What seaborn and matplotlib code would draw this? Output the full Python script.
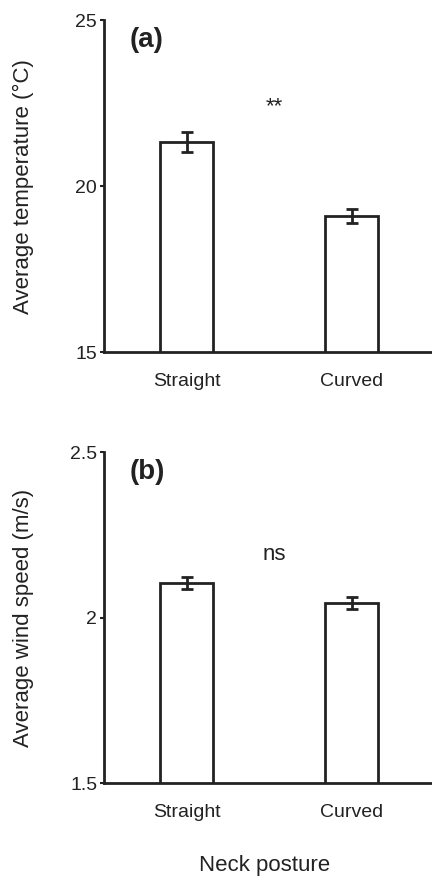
import seaborn as sns
import matplotlib.pyplot as plt

# data
posture = ['Straight', 'Curved']
temp_mean = [21.33, 19.10]
temp_se = [0.30, 0.21]
wind_mean = [2.104, 2.045]
wind_se = [0.018, 0.019]

sns.set_style('ticks')
plt.rcParams['font.family'] = ['Liberation Sans', 'DejaVu Sans']
ink = '#222222'

fig = plt.figure(figsize=(4.32, 8.8), dpi=100)
ax1 = fig.add_axes([0.241, 0.600, 0.759, 0.377])
ax2 = fig.add_axes([0.241, 0.110, 0.759, 0.376])

def panel(ax, means, ses, ylim, yticks, yticklabels, ylabel, tag, sig, sig_y, tag_y):
    sns.barplot(x=posture, y=means, ax=ax, width=0.32, color='white',
                edgecolor=ink, linewidth=2, errorbar=None)
    ax.errorbar(range(len(posture)), means, yerr=ses, fmt='none',
                ecolor=ink, elinewidth=2, capsize=4, capthick=2)
    ax.set_ylim(*ylim)
    ax.set_xlim(-0.5, 1.485)
    ax.set_yticks(yticks)
    ax.set_yticklabels(yticklabels)
    ax.set_ylabel(ylabel, fontsize=16, color=ink)
    ax.yaxis.set_label_coords(-0.215, 0.5)
    ax.tick_params(axis='y', length=3, width=1.5, labelsize=14, colors=ink, pad=2)
    ax.tick_params(axis='x', length=0, labelsize=14, colors=ink, pad=15)
    for s in ['left', 'bottom']:
        ax.spines[s].set_linewidth(2)
        ax.spines[s].set_color(ink)
    sns.despine(ax=ax)
    ax.text(-0.345, tag_y, tag, fontsize=20, fontweight='bold', color=ink, va='center')
    ax.text(0.53, sig_y, sig, fontsize=16, color=ink, ha='center', va='center')

panel(ax1, temp_mean, temp_se, (15, 25), [15, 20, 25], ['15', '20', '25'],
      'Average temperature (°C)', '(a)', '**', 22.4, 24.4)
panel(ax2, wind_mean, wind_se, (1.5, 2.5), [1.5, 2.0, 2.5], ['1.5', '2', '2.5'],
      'Average wind speed (m/s)', '(b)', 'ns', 2.19, 2.44)

fig.text(0.613, 0.016, 'Neck posture', fontsize=16, color=ink, ha='center', va='center')

fig.savefig('out.png', dpi=100)
